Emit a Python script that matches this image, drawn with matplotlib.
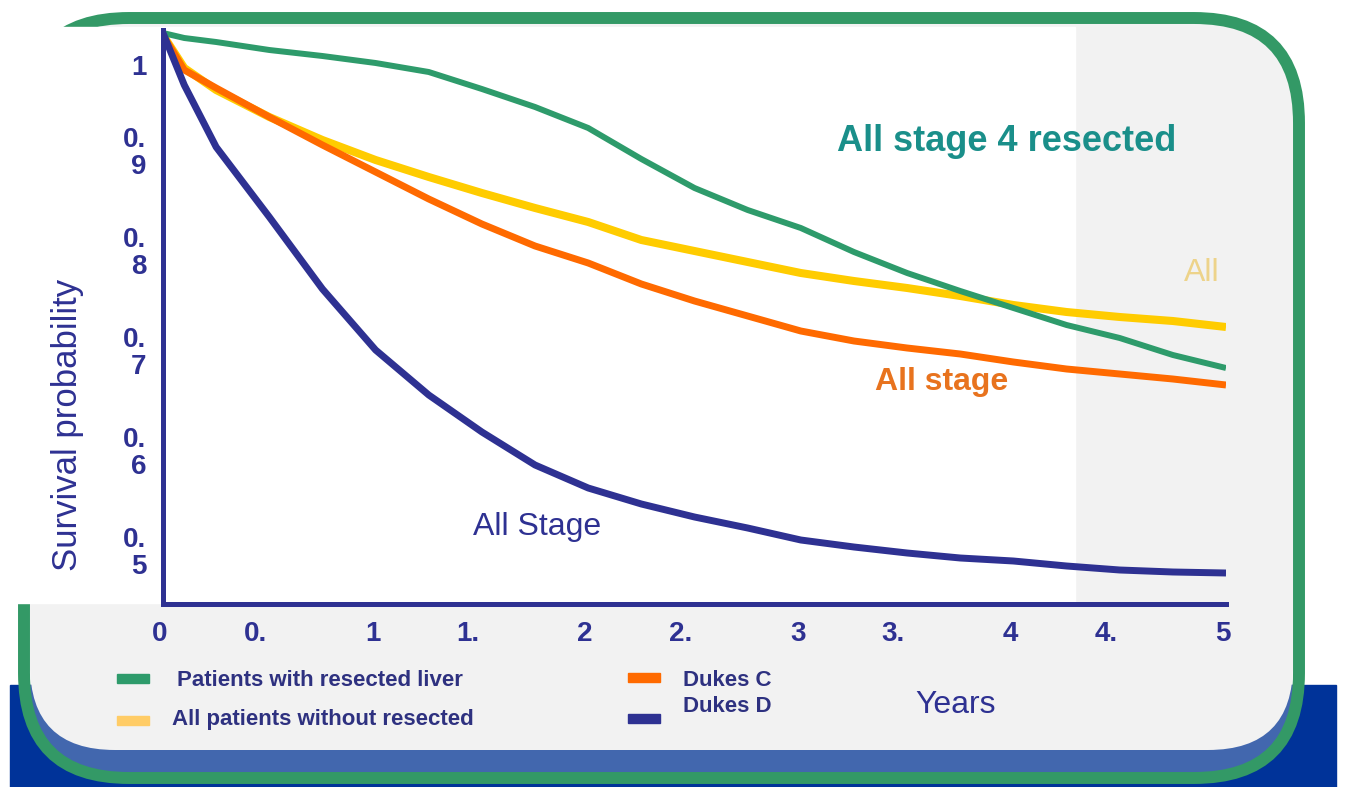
import numpy as np
import matplotlib.pyplot as plt
from matplotlib.patches import Rectangle, FancyBboxPatch
from matplotlib.transforms import ScaledTranslation
plt.rcParams['font.family'] = ['Liberation Sans', 'DejaVu Sans']

# survival curves (years vs survival probability)
years = [0, 0.1, 0.25, 0.5, 0.75, 1.0, 1.25, 1.5, 1.75, 2.0, 2.25, 2.5, 2.75,
         3.0, 3.25, 3.5, 3.75, 4.0, 4.25, 4.5, 4.75, 5.0]
resected_liver = [1.017, 1.012, 1.008, 1.000, 0.994, 0.987, 0.978, 0.961, 0.943, 0.922, 0.891,
                  0.862, 0.840, 0.822, 0.798, 0.777, 0.759, 0.742, 0.725, 0.712, 0.695, 0.682]
without_resected = [1.015, 0.982, 0.960, 0.933, 0.910, 0.890, 0.873, 0.857, 0.842, 0.828, 0.810,
                    0.799, 0.788, 0.777, 0.769, 0.762, 0.754, 0.745, 0.738, 0.733, 0.729, 0.723]
dukes_c = [1.015, 0.980, 0.962, 0.933, 0.905, 0.878, 0.851, 0.826, 0.804, 0.787, 0.766,
           0.749, 0.734, 0.719, 0.709, 0.702, 0.696, 0.688, 0.681, 0.676, 0.671, 0.665]
dukes_d = [1.017, 0.965, 0.903, 0.833, 0.761, 0.700, 0.655, 0.618, 0.585, 0.562, 0.546,
           0.533, 0.522, 0.510, 0.503, 0.497, 0.492, 0.489, 0.484, 0.480, 0.478, 0.477]

xticks = [0, 0.5, 1, 1.5, 2, 2.5, 3, 3.5, 4, 4.5, 5]
xticklabels = ['0', '0.', '1', '1.', '2', '2.', '3', '3.', '4', '4.', '5']
yticks = [1.0, 0.9, 0.8, 0.7, 0.6, 0.5]
yticklabels = ['1', '0.\n9', '0.\n8', '0.\n7', '0.\n6', '0.\n5']

legend_items = [('Patients with resected liver', '#2E9B6B'),
                ('All patients without resected', '#FFCC66'),
                ('Dukes C', '#FF6A00'),
                ('Dukes D', '#2E3192')]

navy = '#2E3192'
W, H = 1345, 787
fig = plt.figure(figsize=(W/100, H/100), dpi=100)

# slide background drawn in pixel coordinates
bg = fig.add_axes([0, 0, 1, 1])
bg.set_xlim(0, W)
bg.set_ylim(H, 0)
bg.axis('off')
bg.add_patch(Rectangle((10, 685), 1326, 102, color='#003399', zorder=1))
clip = FancyBboxPatch((24, 18), 1275, 760, boxstyle='round,pad=0,rounding_size=105',
                      transform=bg.transData)
band = Rectangle((0, 685), W, 102, color='#4267AE', zorder=2)
bg.add_patch(band)
band.set_clip_path(clip)
bg.add_patch(FancyBboxPatch((30, 24), 1263, 726, boxstyle='round,pad=0,rounding_size=85',
                            color='#F2F2F2', lw=0, zorder=3))
bg.add_patch(FancyBboxPatch((24, 18), 1275, 760, boxstyle='round,pad=0,rounding_size=105',
                            fill=False, ec='#339966', lw=8.6, zorder=4))
bg.add_patch(Rectangle((0, 27), 1075, 576, color='white', zorder=5))

# legend (manual, as on the slide)
def fx(px): return px / W
def fy(py): return 1 - py / H
leg_pos = [(117, 678, 177, 680), (117, 720, 172, 720), (628, 677, 683, 680), (628, 718, 683, 707)]
for (label, col), (hx, hy, tx, ty) in zip(legend_items, leg_pos):
    bg.add_patch(Rectangle((hx, hy - 4.5), 32, 9, color=col, zorder=6))
    fig.text(fx(tx), fy(ty), label, fontsize=16, fontweight='bold', color='#2E3180',
             va='center', ha='left')

ax = fig.add_axes([163/W, 1 - 604/H, (1226 - 163)/W, (604 - 30)/H])
ax.patch.set_alpha(0)
ax.plot(years, without_resected, color='#FFCC00', lw=5.8, solid_capstyle='butt')
ax.plot(years, dukes_c, color='#FF6A00', lw=5.0, solid_capstyle='butt')
ax.plot(years, resected_liver, color='#2E9B6B', lw=4.3, solid_capstyle='butt')
ax.plot(years, dukes_d, color=navy, lw=5.0, solid_capstyle='butt')
ax.set_xlim(0, 5)
ax.set_ylim(0.446, 1.02)

for s in ['top', 'right']:
    ax.spines[s].set_visible(False)
for s in ['left', 'bottom']:
    ax.spines[s].set_color(navy)
    ax.spines[s].set_linewidth(3.6)

ax.set_xticks(xticks)
ax.set_xticklabels(xticklabels, fontsize=20, fontweight='bold', color=navy)
ax.set_yticks(yticks)
ax.set_yticklabels(yticklabels, fontsize=20, fontweight='bold', color=navy,
                   linespacing=1.05, multialignment='right')
ax.tick_params(axis='x', length=0, pad=12)
ax.tick_params(axis='y', length=0, pad=12)
for i, lbl in enumerate(ax.get_xticklabels()):
    dx = -14 if i % 2 else -3
    lbl.set_transform(lbl.get_transform() + ScaledTranslation(dx/100, 0, fig.dpi_scale_trans))
first = ax.get_yticklabels()[0]
first.set_transform(first.get_transform() + ScaledTranslation(0, -15/100, fig.dpi_scale_trans))

fig.text(fx(68), fy(425), 'Survival probability', rotation=90, fontsize=25, color=navy,
         ha='center', va='center')
fig.text(fx(915), fy(705), 'Years', fontsize=23, color=navy, ha='left', va='center')

ax.text(3.17, 0.909, 'All stage 4 resected', fontsize=26, fontweight='bold', color='#1A8F8A',
        ha='left', va='center')
ax.text(4.8, 0.777, 'All', fontsize=23, color='#EDD38A', ha='left', va='center')
ax.text(3.35, 0.668, 'All stage', fontsize=23, fontweight='bold', color='#E8731E',
        ha='left', va='center')
ax.text(1.46, 0.523, 'All Stage', fontsize=23, color=navy, ha='left', va='center')

fig.savefig('out.png', dpi=100)
